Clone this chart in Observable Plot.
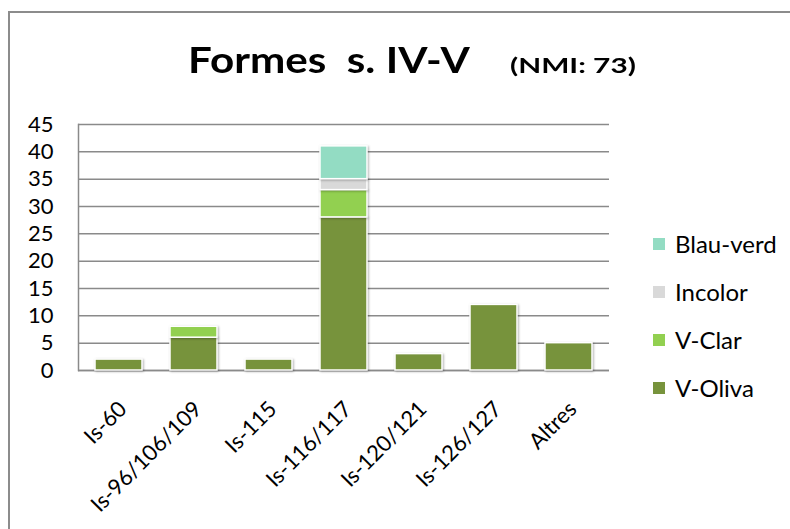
<!DOCTYPE html>
<html><head><meta charset="utf-8">
<script src="https://cdn.jsdelivr.net/npm/d3@7"></script>
<script src="https://cdn.jsdelivr.net/npm/@observablehq/plot@0.6"></script>
<style>
body{margin:0;background:#fff;font-family:Lato,"Open Sans",sans-serif;}
#wrap{position:relative;width:790px;height:529px;overflow:hidden;background:#fff;}
#frame{position:absolute;left:8px;top:11px;width:900px;height:700px;border-left:2px solid #8c8c8c;border-top:2px solid #8c8c8c;}
.ttl{position:absolute;white-space:nowrap;font-weight:bold;color:#000;line-height:normal;transform-origin:0 0;}
#t1{left:188px;top:36px;font-size:37px;transform:scaleX(1.14);}
#t2{left:510px;top:52px;font-size:21px;transform:scaleX(1.42);}
#chart{position:absolute;left:0;top:0;}
.sw{position:absolute;left:653px;width:12px;height:12px;}
.lt{position:absolute;left:675px;white-space:nowrap;font-size:24px;line-height:24px;color:#000;}
.bars rect{filter:drop-shadow(1px 1px 1.2px rgba(0,0,0,0.3));}
</style></head>
<body>
<div id="wrap">
  <div id="frame"></div>
  <div class="ttl" id="t1">Formes&nbsp; s. IV-V</div>
  <div class="ttl" id="t2">(NMI: 73)</div>
  <div id="chart"></div>
  <div id="legend"></div>
</div>
<script>
const categories = ["Is-60","Is-96/106/109","Is-115","Is-116/117","Is-120/121","Is-126/127","Altres"];
const seriesNames = ["V-Oliva","V-Clar","Incolor","Blau-verd"];
const seriesColors = ["#77933c","#92d050","#d9d9d9","#93dcc3"];
const vOliva   = [2, 6, 2, 28, 3, 12, 5];
const vClar    = [0, 2, 0, 5, 0, 0, 0];
const incolor  = [0, 0, 0, 2, 0, 0, 0];
const blauVerd = [0, 0, 0, 6, 0, 0, 0];
const yTicks = [0,5,10,15,20,25,30,35,40,45];

const seriesValues = [vOliva, vClar, incolor, blauVerd];
const data = [];
seriesNames.forEach((s, i) => categories.forEach((c, j) => {
  if (seriesValues[i][j] > 0) data.push({category: c, series: s, value: seriesValues[i][j]});
}));

const plot = Plot.plot({
  width: 620, height: 529,
  marginLeft: 78, marginRight: 11, marginTop: 124, marginBottom: 159,
  x: {domain: categories, paddingInner: 0.37, paddingOuter: 0.185, label: null},
  y: {domain: [0, 45], label: null},
  color: {domain: seriesNames, range: seriesColors},
  style: {fontFamily: "Lato, 'Open Sans', sans-serif", color: "#000", background: "transparent", overflow: "visible"},
  marks: [
    Plot.gridY(yTicks, {stroke: "#8a8a8a", strokeOpacity: 1, strokeWidth: 1.5}),
    Plot.frame({anchor: "left", stroke: "#8a8a8a", strokeWidth: 1.5}),
    Plot.ruleY([0], {stroke: "#8a8a8a", strokeWidth: 1.5}),
    Plot.barY(data, Plot.stackY({order: seriesNames, x: "category", y: "value", fill: "series", stroke: "white", strokeWidth: 1.5, className: "bars"})),
    Plot.axisY(yTicks, {tickSize: 0, tickPadding: 25, fontSize: 22}),
    Plot.axisX({tickRotate: -45, tickSize: 0, tickPadding: 35, dx: 4, fontSize: 22})
  ]
});
document.getElementById("chart").appendChild(plot);

const legend = document.getElementById("legend");
const legendY = [244, 292, 340, 388];
[...seriesNames].reverse().forEach((s, k) => {
  const sw = document.createElement("div");
  sw.className = "sw";
  sw.style.top = (legendY[k] - 6) + "px";
  sw.style.background = seriesColors[seriesNames.indexOf(s)];
  legend.appendChild(sw);
  const t = document.createElement("div");
  t.className = "lt";
  t.style.top = (legendY[k] - 12.5) + "px";
  t.textContent = s;
  legend.appendChild(t);
});
</script>
</body></html>
